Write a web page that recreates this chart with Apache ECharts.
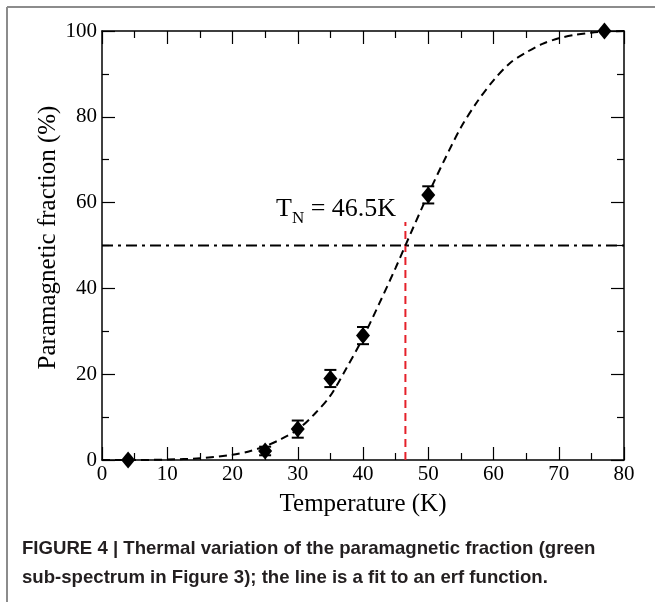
<!DOCTYPE html>
<html>
<head>
<meta charset="utf-8">
<script src="https://cdn.jsdelivr.net/npm/echarts@6/dist/echarts.min.js"></script>
<style>
  html, body { margin: 0; padding: 0; background: #fff; }
  #main { width: 655px; height: 602px; }
</style>
</head>
<body>
<div id="main"></div>
<script>
// measured points (temperature K, paramagnetic fraction %, error bar half-height)
var temps = [4, 25, 30, 35, 40, 50, 77];
var fraction = [0, 2.1, 7.2, 19, 29, 61.8, 100];
var errors = [0, 1, 2, 2, 2, 2, 0];

// erf fit curve
var fitT = [0, 5, 10, 15, 20, 22.5, 25, 27.5, 30, 32.5, 35, 37.5, 40, 42.5, 45, 47.5, 50, 52.5, 55, 57.5, 60, 62.5, 65, 67.5, 70, 72.5, 75, 77.5, 80];
var fitY = [0, 0, 0.1, 0.4, 1.2, 2.0, 3.2, 4.9, 7.1, 10.6, 15, 21.5, 28.5, 36.5, 44.8, 53.5, 62, 70, 77.5, 83.5, 88.5, 92.5, 95, 97, 98.3, 99.1, 99.6, 99.9, 100];

// Néel temperature marker and half level
var tNeel = 46.5;
var neelTop = 55.5;
var halfLevel = 50;

var xTicks = { min: 0, max: 80, step: 10 };
var yTicks = { min: 0, max: 100, step: 20 };

var serif = 'Liberation Serif';
var chart = echarts.init(document.getElementById('main'));

function makeX(pos, withLabel) {
	return {
		type: 'value',
		position: pos,
		min: xTicks.min, max: xTicks.max, interval: xTicks.step,
		axisLine: { show: true, onZero: false, lineStyle: { color: '#000', width: 1.5 } },
		axisTick: { show: true, inside: true, length: 13, lineStyle: { color: '#000', width: 1.2 } },
		minorTick: { show: true, splitNumber: 2, length: 7, lineStyle: { color: '#000', width: 1.2 } },
		splitLine: { show: false },
		axisLabel: { show: withLabel, fontFamily: serif, fontSize: 21, color: '#000', margin: 4 },
		name: withLabel ? 'Temperature (K)' : '',
		nameLocation: 'middle',
		nameGap: 32,
		nameTextStyle: { fontFamily: serif, fontSize: 25, color: '#000' }
	};
}

function makeY(pos, withLabel) {
	return {
		type: 'value',
		position: pos,
		min: yTicks.min, max: yTicks.max, interval: yTicks.step,
		axisLine: { show: true, onZero: false, lineStyle: { color: '#000', width: 1.5 } },
		axisTick: { show: true, inside: true, length: 13, lineStyle: { color: '#000', width: 1.2 } },
		minorTick: { show: true, splitNumber: 2, length: 7, lineStyle: { color: '#000', width: 1.2 } },
		splitLine: { show: false },
		axisLabel: { show: withLabel, fontFamily: serif, fontSize: 21, color: '#000', margin: 5 },
		name: withLabel ? 'Paramagnetic fraction (%)' : '',
		nameLocation: 'middle',
		nameGap: 41,
		nameMoveOverlap: false,
		nameTextStyle: { fontFamily: serif, fontSize: 25, color: '#000', padding: [0, 0, 0, 16] }
	};
}

var fitData = fitT.map(function (t, i) { return [t, fitY[i]]; });
var pointData = temps.map(function (t, i) { return [t, fraction[i]]; });
var errData = temps.map(function (t, i) { return [t, fraction[i] - errors[i], fraction[i] + errors[i]]; });

var option = {
	animation: false,
	backgroundColor: '#fff',
	grid: { left: 102, right: 31, top: 31, bottom: 142 },
	xAxis: [makeX('bottom', true), makeX('top', false)],
	yAxis: [makeY('left', true), makeY('right', false)],
	series: [
		{
			name: 'half',
			type: 'line',
			data: [[xTicks.min, halfLevel], [xTicks.max, halfLevel]],
			symbol: 'none',
			lineStyle: { color: '#000', width: 2, type: [11, 5, 3, 5] },
			z: 2
		},
		{
			name: 'TN',
			type: 'line',
			data: [[tNeel, 0], [tNeel, neelTop]],
			symbol: 'none',
			lineStyle: { color: '#e5202a', width: 2, type: [8, 5] },
			z: 3
		},
		{
			name: 'fit',
			type: 'line',
			data: fitData,
			symbol: 'none',
			smooth: 0.3,
			lineStyle: { color: '#000', width: 2, type: [8, 5] },
			z: 4
		},
		{
			name: 'errors',
			type: 'custom',
			data: errData,
			z: 5,
			renderItem: function (params, api) {
				var lo = api.coord([api.value(0), api.value(1)]);
				var hi = api.coord([api.value(0), api.value(2)]);
				if (Math.abs(lo[1] - hi[1]) < 1) return;
				var w = 6;
				var st = { stroke: '#000', lineWidth: 2 };
				return {
					type: 'group',
					children: [
						{ type: 'line', shape: { x1: lo[0], y1: lo[1], x2: hi[0], y2: hi[1] }, style: st },
						{ type: 'line', shape: { x1: lo[0] - w, y1: lo[1], x2: lo[0] + w, y2: lo[1] }, style: st },
						{ type: 'line', shape: { x1: hi[0] - w, y1: hi[1], x2: hi[0] + w, y2: hi[1] }, style: st }
					]
				};
			}
		},
		{
			name: 'data',
			type: 'scatter',
			data: pointData,
			symbol: 'diamond',
			symbolSize: [14, 17],
			itemStyle: { color: '#000', opacity: 1 },
			z: 6
		}
	],
	graphic: [
		{ type: 'line', shape: { x1: 7, y1: 7, x2: 655, y2: 7 }, style: { stroke: '#8c8c8c', lineWidth: 2 } },
		{ type: 'line', shape: { x1: 7, y1: 7, x2: 7, y2: 602 }, style: { stroke: '#8c8c8c', lineWidth: 2 } },
		{
			type: 'text', left: 276, top: 196,
			style: {
				text: '{a|T}{b|N}{a| = 46.5K}',
				rich: {
					a: { fontFamily: serif, fontSize: 26, color: '#000', lineHeight: 30, verticalAlign: 'top' },
					b: { fontFamily: serif, fontSize: 17, color: '#000', lineHeight: 30, padding: [14, 0, 0, 0], verticalAlign: 'top' }
				}
			}
		},
		{
			type: 'text', left: 22, top: 539,
			style: {
				text: 'FIGURE 4 | Thermal variation of the paramagnetic fraction (green',
				fontFamily: 'Liberation Sans', fontWeight: 'bold', fontSize: 18.6, fill: '#231f20'
			}
		},
		{
			type: 'text', left: 22, top: 568,
			style: {
				text: 'sub-spectrum in Figure 3); the line is a fit to an erf function.',
				fontFamily: 'Liberation Sans', fontWeight: 'bold', fontSize: 18.6, fill: '#231f20'
			}
		}
	]
};

chart.setOption(option);
</script>
</body>
</html>
